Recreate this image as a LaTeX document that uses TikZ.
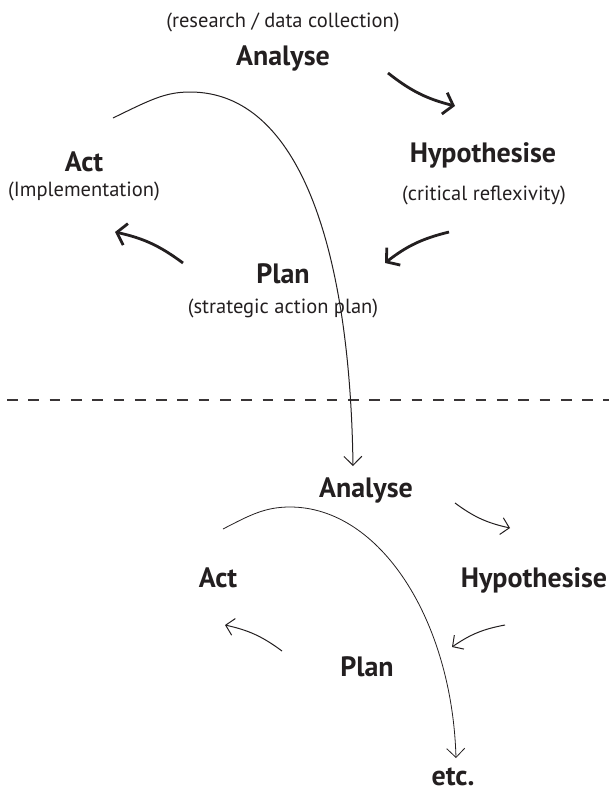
\documentclass[tikz,border=0pt]{standalone}
\usepackage{fontspec}
\setmainfont{PT Sans}
\usetikzlibrary{arrows.meta,positioning}
\definecolor{encre}{RGB}{35,31,32}

\tikzset{
  stage/.style={font=\fontsize{28}{30}\selectfont\bfseries,text=encre,anchor=base},
  note/.style={font=\fontsize{20.5}{23}\selectfont,text=encre,anchor=base},
  turn/.style={encre,line width=2.8pt,-{Straight Barb[length=9pt,width=22pt]}},
  turnthin/.style={encre,line width=1pt,-{Straight Barb[length=8pt,width=17pt]}},
  link/.style={encre,line width=1pt,-{Straight Barb[length=9pt,width=18pt]}},
}

\begin{document}
\begin{tikzpicture}[x=1pt,y=-1pt,inner sep=0pt]
  \useasboundingbox (0,0) rectangle (609,793);
  % premier cycle
  \node[note] (ana1n) at (283,27) {(research / data collection)};
  \node[stage] (ana1) at (283,65) {Analyse};
  \node[stage] (hyp1) at (483,162) {Hypothesise};
  \node[note] (hyp1n) at (484,200) {(critical reflexivity)};
  \node[stage] (plan1) at (283,283) {Plan};
  \node[note] (plan1n) at (283,313) {(strategic action plan)};
  \node[stage] (act1) at (84,171) {Act};
  \node[note] (act1n) at (84,196) {(Implementation)};
  % bouts des fleches
  \coordinate (a1s) at (388,73);  \coordinate (a1e) at (455,106);
  \coordinate (h1s) at (449,232); \coordinate (h1e) at (385,263);
  \coordinate (p1s) at (183,263); \coordinate (p1e) at (115,232);
  \draw[turn] (a1s) to[bend right=12] (a1e);
  \draw[turn] (h1s) to[bend right=12] (h1e);
  \draw[turn] (p1s) to[bend right=12] (p1e);
  % separation
  \draw[encre!90,line width=2.6pt,dash pattern=on 10.7pt off 10.6pt] (7,400) -- (609,400);
  % second cycle
  \node[stage] (ana2) at (366,497) {Analyse};
  \node[stage] (hyp2) at (534,587) {Hypothesise};
  \node[stage] (plan2) at (367,676) {Plan};
  \node[stage] (act2) at (218,587) {Act};
  \node[stage] (etc) at (453,785) {etc.};
  \coordinate (a2s) at (455,503); \coordinate (a2e) at (510,528);
  \coordinate (h2s) at (505,625); \coordinate (h2e) at (452,647);
  \coordinate (p2s) at (282,651); \coordinate (p2e) at (225,625);
  \draw[turnthin] (a2s) to[bend right=12] (a2e);
  \draw[turnthin] (h2s) to[bend right=12] (h2e);
  \draw[turnthin] (p2s) to[bend right=12] (p2e);
  % passage d'un cycle au suivant
  \coordinate (l1s) at (113,118); \coordinate (l1e) at (353,466);
  \draw[link] (l1s) .. controls (150,100) and (165,92) .. (190,92)
    .. controls (300,92) and (350,250) .. (l1e);
  \coordinate (l2s) at (223,529); \coordinate (l2e) at (456,758);
  \draw[link,line width=0.8pt] (l2s) .. controls (250,515) and (265,507) .. (290,507)
    .. controls (380,507) and (452,620) .. (l2e);
\end{tikzpicture}
\end{document}
